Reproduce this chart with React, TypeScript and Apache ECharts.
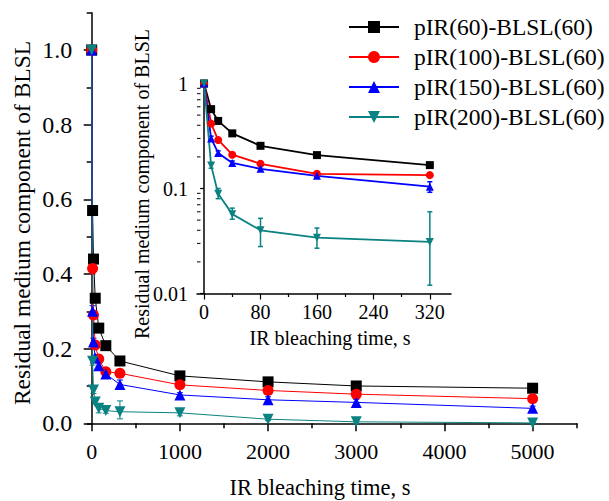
import React, { useEffect, useRef } from "react";
import * as echarts from "echarts";

const FONT = "Liberation Serif";

const times = [0, 10, 20, 40, 80, 160, 320, 1000, 2000, 3000, 5000];
const insetCount = 7;
const seriesNames = ["pIR(60)-BLSL(60)", "pIR(100)-BLSL(60)", "pIR(150)-BLSL(60)", "pIR(200)-BLSL(60)"];

const pIR60 = [1, 0.57, 0.44, 0.335, 0.255, 0.208, 0.167, 0.127, 0.111, 0.1, 0.094];
const pIR100 = [1, 0.415, 0.29, 0.21, 0.172, 0.138, 0.134, 0.103, 0.088, 0.078, 0.066];
const pIR150 = [1, 0.3, 0.218, 0.175, 0.154, 0.132, 0.104, 0.076, 0.063, 0.056, 0.04];
const pIR200 = [1, 0.166, 0.089, 0.057, 0.04, 0.034, 0.031, 0.028, 0.011, 0.004, 0.001];

const pIR60Err = [0, 0.01, 0.01, 0.01, 0.008, 0.008, 0.008, 0.006, 0.006, 0.006, 0.006];
const pIR100Err = [0, 0.015, 0.01, 0.008, 0.008, 0.006, 0.006, 0.008, 0.008, 0.008, 0.008];
const pIR150Err = [0, 0.015, 0.01, 0.008, 0.008, 0.006, 0.012, 0.006, 0.008, 0.008, 0.006];
const pIR200ErrLow = [0, 0.01, 0.009, 0.006, 0.012, 0.007, 0.019, 0.008, 0.004, 0.003, 0.001];
const pIR200ErrHigh = [0, 0.01, 0.011, 0.008, 0.012, 0.008, 0.029, 0.01, 0.004, 0.003, 0.001];

const mainXTicks = [0, 1000, 2000, 3000, 4000, 5000];
const mainXMinor = [500, 1500, 2500, 3500, 4500, 5500];
const mainYTicks = [0, 0.2, 0.4, 0.6, 0.8, 1.0];
const mainYMinor = [0.1, 0.3, 0.5, 0.7, 0.9, 1.1];
const insetXTicks = [0, 80, 160, 240, 320];
const insetXMinor = [40, 120, 200, 280];
const insetYMinor = [0.02, 0.03, 0.04, 0.05, 0.06, 0.07, 0.08, 0.09, 0.2, 0.3, 0.4, 0.5, 0.6, 0.7, 0.8, 0.9];

const colors = ["#000000", "#ff0000", "#0000ff", "#0a8282"];
const symbols = ["rect", "circle", "triangle", "triangle"];
const rotations = [0, 0, 0, 180];

export default function App() {
  const ref = useRef<HTMLDivElement>(null);
  useEffect(() => {
    if (!ref.current) return;
    const chart = echarts.init(ref.current, null, { renderer: "svg" });

    const values = [pIR60, pIR100, pIR150, pIR200];
    const lows = [
      pIR60.map((v, i) => v - pIR60Err[i]),
      pIR100.map((v, i) => v - pIR100Err[i]),
      pIR150.map((v, i) => v - pIR150Err[i]),
      pIR200.map((v, i) => v - pIR200ErrLow[i]),
    ];
    const highs = [
      pIR60.map((v, i) => v + pIR60Err[i]),
      pIR100.map((v, i) => v + pIR100Err[i]),
      pIR150.map((v, i) => v + pIR150Err[i]),
      pIR200.map((v, i) => v + pIR200ErrHigh[i]),
    ];

    const errRender = (color: string, cap: number, lw: number) => (params: any, api: any) => {
      const x = api.value(0);
      const lo = api.value(1);
      const hi = api.value(2);
      const a = api.coord([x, lo]);
      const b = api.coord([x, hi]);
      const style = { stroke: color, lineWidth: lw };
      return {
        type: "group",
        children: [
          { type: "line", shape: { x1: a[0], y1: a[1], x2: b[0], y2: b[1] }, style },
          { type: "line", shape: { x1: a[0] - cap, y1: a[1], x2: a[0] + cap, y2: a[1] }, style },
          { type: "line", shape: { x1: b[0] - cap, y1: b[1], x2: b[0] + cap, y2: b[1] }, style },
        ],
      };
    };

    const series: any[] = [];
    values.forEach((vals, k) => {
      const errData: any[] = [];
      times.forEach((t, i) => {
        if (highs[k][i] - lows[k][i] > 0) errData.push([t, Math.max(lows[k][i], 0), highs[k][i]]);
      });
      series.push({
        type: "custom", xAxisIndex: 0, yAxisIndex: 0, silent: true, clip: false,
        encode: { x: 0, y: [1, 2] }, data: errData,
        renderItem: errRender(colors[k], 3, 1), z: 2,
      });
      series.push({
        type: "line", name: seriesNames[k], xAxisIndex: 0, yAxisIndex: 0,
        data: times.map((t, i) => [t, vals[i]]),
        symbol: symbols[k], symbolRotate: rotations[k], symbolSize: 11, clip: false,
        lineStyle: { color: colors[k], width: 1 }, itemStyle: { color: colors[k] }, z: 3,
      });
      const insetErr: any[] = [];
      for (let i = 0; i < insetCount; i++) {
        if (highs[k][i] - lows[k][i] > 0) insetErr.push([times[i], lows[k][i], highs[k][i]]);
      }
      series.push({
        type: "custom", xAxisIndex: 2, yAxisIndex: 2, silent: true, clip: false,
        encode: { x: 0, y: [1, 2] }, data: insetErr,
        renderItem: errRender(colors[k], 2.5, 1.5), z: 4,
      });
      series.push({
        type: "line", name: seriesNames[k], xAxisIndex: 2, yAxisIndex: 2,
        data: times.slice(0, insetCount).map((t, i) => [t, vals[i]]),
        symbol: symbols[k], symbolRotate: rotations[k], symbolSize: 8, clip: false,
        lineStyle: { color: colors[k], width: 1.8 }, itemStyle: { color: colors[k] }, z: 5,
      });
    });

    series.push({
      type: "custom", xAxisIndex: 2, yAxisIndex: 2, silent: true, clip: false,
      encode: { x: 0, y: 1 },
      data: insetYMinor.map((v) => [-10, v]),
      renderItem: (params: any, api: any) => {
        const p = api.coord([api.value(0), api.value(1)]);
        return {
          type: "line",
          shape: { x1: p[0], y1: p[1], x2: p[0] + 3.5, y2: p[1] },
          style: { stroke: "#000", lineWidth: 1 },
        };
      },
      z: 6,
    });

    const axisLine = { show: true, lineStyle: { color: "#000", width: 1.5 } };
    const hidden = { show: false };
    const plain = (v: number) => String(Number(v.toPrecision(6)));
    const txt = (text: string, x: number, y: number, size: number, rot = 0) => ({
      type: "text", x, y, rotation: rot,
      style: { text, font: `${size}px "${FONT}"`, fill: "#000", align: "center", verticalAlign: "middle", textAlign: "center", textVerticalAlign: "middle" },
    });

    chart.setOption({
      animation: false,
      backgroundColor: "#ffffff",
      textStyle: { fontFamily: FONT },
      grid: [
        { left: 87.3, top: 12.7, width: 489.4, height: 410.6 },
        { left: 197, top: 83.5, width: 254, height: 210 },
      ],
      legend: {
        data: seriesNames, orient: "vertical", left: 343, top: 10,
        itemWidth: 50, itemHeight: 15, itemGap: 6,
        lineStyle: { width: 2 },
        textStyle: { fontFamily: FONT, fontSize: 23.5, color: "#000", padding: [0, 0, 0, 10] },
      },
      xAxis: [
        {
          type: "value", gridIndex: 0, min: -50, max: 5500, position: "bottom",
          axisLine, splitLine: hidden,
          axisTick: { show: true, length: 8, customValues: mainXTicks, lineStyle: { color: "#000", width: 1.5 } },
          axisLabel: { customValues: mainXTicks, fontFamily: FONT, fontSize: 22, color: "#000", margin: 17, formatter: plain },
        },
        {
          type: "value", gridIndex: 0, min: -50, max: 5500, position: "bottom",
          axisLine: hidden, splitLine: hidden, axisLabel: hidden,
          axisTick: { show: true, length: 5, customValues: mainXMinor, lineStyle: { color: "#000", width: 1.5 } },
        },
        {
          type: "value", gridIndex: 1, min: -10, max: 350, position: "bottom",
          axisLine, splitLine: hidden,
          axisTick: { show: true, length: 6, customValues: insetXTicks, lineStyle: { color: "#000", width: 1.2 } },
          axisLabel: { customValues: insetXTicks, fontFamily: FONT, fontSize: 20, color: "#000", margin: 8, formatter: plain },
        },
        {
          type: "value", gridIndex: 1, min: -10, max: 350, position: "bottom",
          axisLine: hidden, splitLine: hidden, axisLabel: hidden,
          axisTick: { show: true, length: 3.5, customValues: insetXMinor, lineStyle: { color: "#000", width: 1.2 } },
        },
      ],
      yAxis: [
        {
          type: "value", gridIndex: 0, min: 0, max: 1.1, position: "left",
          axisLine, splitLine: hidden,
          axisTick: { show: true, length: 8, customValues: mainYTicks, lineStyle: { color: "#000", width: 1.5 } },
          axisLabel: {
            customValues: mainYTicks, fontFamily: FONT, fontSize: 24, color: "#000", margin: 15,
            formatter: (v: number) => v.toFixed(1),
          },
        },
        {
          type: "value", gridIndex: 0, min: 0, max: 1.1, position: "left",
          axisLine: hidden, splitLine: hidden, axisLabel: hidden,
          axisTick: { show: true, length: 5, customValues: mainYMinor, lineStyle: { color: "#000", width: 1.5 } },
        },
        {
          type: "log", gridIndex: 1, min: 0.01, max: 1, logBase: 10, position: "left",
          axisLine, splitLine: hidden, minorTick: hidden,
          axisTick: { show: true, length: 4, lineStyle: { color: "#000", width: 1.2 } },
          axisLabel: {
            fontFamily: FONT, fontSize: 20, color: "#000", margin: 9,
            formatter: (v: number) => String(Number(v.toPrecision(3))),
          },
        },
      ],
      graphic: [
        txt("Residual medium component of BLSL", 22, 223, 23.5, Math.PI / 2),
        txt("IR bleaching time, s", 320, 487, 22.5),
        txt("Residual medium component of BLSL", 142, 184, 20, Math.PI / 2),
        txt("IR bleaching time, s", 330, 338, 20),
      ],
      series,
    });
    return () => chart.dispose();
  }, []);
  return <div ref={ref} style={{ position: "fixed", left: 0, top: 0, width: 609, height: 501 }} />;
}
